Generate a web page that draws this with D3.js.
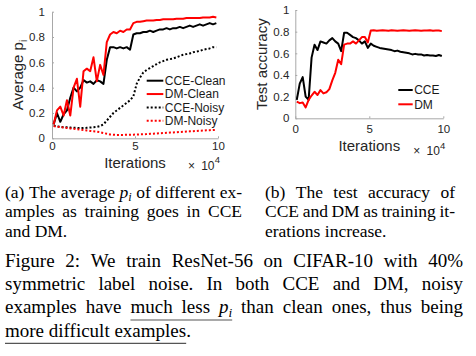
<!DOCTYPE html>
<html><head><meta charset="utf-8">
<script src="https://cdn.jsdelivr.net/npm/d3@7/dist/d3.min.js"></script>
<style>body{margin:0;background:#fff;} svg{display:block}</style>
</head><body>
<svg id="fig" width="476" height="356"></svg>
<script>
// ---- data (iterations in units of 10^4) ----
const iterations = d3.range(50).map(i => +(0.1 + 0.2 * i).toFixed(1));
const cceClean = [.11,.20,.13,.19,.22,.32,.40,.37,.40,.46, .44,.45,.43,.46,.45,.43,.62,.72,.72,.71,
  .72,.71,.72,.70,.82,.83,.83,.84,.84,.85, .84,.85,.86,.86,.87,.86,.87,.87,.88,.87,
  .88,.89,.88,.89,.90,.89,.90,.91,.90,.91];
const dmClean = [.11,.22,.25,.18,.30,.18,.40,.47,.25,.53, .55,.53,.64,.45,.58,.50,.76,.82,.84,.83,
  .85,.84,.86,.86,.91,.92,.92,.925,.93,.93, .93,.935,.935,.94,.94,.94,.94,.945,.945,.945,
  .95,.95,.95,.95,.95,.955,.955,.955,.96,.955];
const cceNoisy = [.10,.095,.09,.088,.087,.085,.083,.082,.08,.081, .083,.085,.087,.09,.097,.11,.14,.17,.20,.22,
  .24,.26,.28,.30,.33,.43,.48,.52,.54,.555, .57,.585,.60,.61,.62,.625,.63,.64,.65,.66,
  .665,.67,.68,.685,.69,.70,.705,.71,.72,.72];
const dmNoisy = [.097,.092,.088,.085,.082,.078,.075,.072,.068,.065, .062,.058,.055,.052,.048,.042,.036,.03,.028,.027,
  .027,.027,.028,.028,.029,.03,.031,.032,.033,.035, .036,.038,.04,.041,.043,.045,.046,.048,.05,.051,
  .053,.055,.056,.058,.06,.061,.063,.064,.066,.067];
const cceAcc = [.17,.32,.38,.20,.17,.56,.68,.63,.71,.70, .69,.72,.74,.71,.69,.62,.79,.79,.77,.75,
  .74,.72,.69,.71,.65,.69,.67,.66,.65,.645, .64,.635,.63,.62,.625,.615,.61,.605,.60,.59,
  .595,.59,.59,.58,.585,.58,.58,.575,.585,.575];
const dmAcc = [.154,.14,.145,.10,.17,.21,.245,.215,.26,.23, .24,.27,.35,.42,.54,.50,.68,.69,.69,.71,
  .69,.72,.75,.75,.70,.81,.812,.808,.81,.812, .81,.808,.812,.81,.808,.81,.812,.81,.808,.81,
  .812,.81,.808,.81,.81,.812,.808,.81,.81,.805];
const xTicks = [0, 5, 10];
const xTickLabels = ["0", "5", "10"];
const yTicks = [0, 0.2, 0.4, 0.6, 0.8, 1];
const yTickLabels = ["0", "0.2", "0.4", "0.6", "0.8", "1"];
const legendA = ["CCE-Clean", "DM-Clean", "CCE-Noisy", "DM-Noisy"];
const legendB = ["CCE", "DM"];
const xLabel = "Iterations";

const svg = d3.select("#fig");
const SANS = "'Liberation Sans', Arial, Helvetica, sans-serif";
const SERIF = "'Liberation Serif', 'Times New Roman', serif";
const AXC = "#a8a8a8", TXC = "#262626";

function panel(o) {
  const x = d3.scaleLinear().domain([0, 10]).range([o.x0, o.x1]);
  const y = d3.scaleLinear().domain([0, 1]).range([o.y0, o.y1]);
  const g = svg.append("g");
  const ax = g.append("g").attr("transform", `translate(${o.x0},0)`)
    .call(d3.axisLeft(y).tickValues(yTicks).tickFormat((d, i) => yTickLabels[i])
      .tickSize(-2).tickSizeOuter(0).tickPadding(o.padY));
  const bx = g.append("g").attr("transform", `translate(0,${o.y0})`)
    .call(d3.axisBottom(x).tickValues(xTicks).tickFormat((d, i) => xTickLabels[i])
      .tickSize(-2).tickSizeOuter(0).tickPadding(o.padX));
  [ax, bx].forEach(a => {
    a.attr("font-family", SANS).attr("font-size", 11.5);
    a.select(".domain").attr("stroke", AXC);
    a.selectAll(".tick line").attr("stroke", AXC);
    a.selectAll(".tick text").attr("fill", TXC);
  });
  const line = d3.line().x((d, i) => x(iterations[i])).y(d => y(d));
  o.series.forEach(s => {
    g.append("path").datum(s.values).attr("d", line).attr("fill", "none")
      .attr("stroke", s.color).attr("stroke-width", 2)
      .attr("stroke-linejoin", "round")
      .attr("stroke-dasharray", s.dash ? "2,2" : null);
  });
  // x label
  g.append("text").attr("x", (o.x0 + o.x1) / 2).attr("y", o.xlY).attr("text-anchor", "middle")
    .attr("font-family", SANS).attr("font-size", 15).attr("fill", TXC).text(xLabel);
  const ex = g.append("text").attr("font-family", SANS).attr("fill", TXC);
  ex.append("tspan").attr("x", o.x1 - 30).attr("y", o.expY).attr("font-size", 12).text("\u00d7");
  ex.append("tspan").attr("x", o.x1 - 16.8).attr("y", o.expY).attr("font-size", 12).text("10");
  ex.append("tspan").attr("x", o.x1 - 3.2).attr("y", o.expY - 6.5).attr("font-size", 9.5).text("4");
  // y label
  const yl = g.append("text").attr("transform", `translate(${o.ylX},${(o.y0 + o.y1) / 2 - (o.ylShift || 0)}) rotate(-90)`)
    .attr("text-anchor", "middle").attr("font-family", SANS).attr("font-size", 15).attr("fill", TXC);
  o.ylabel.forEach(s => {
    const t = yl.append("tspan").text(s.t);
    if (s.sub) t.attr("font-size", 10).attr("dy", 4);
  });
  // legend
  o.legend.forEach((name, i) => {
    const s = o.series[i];
    const ly = o.legY + i * o.legStep;
    g.append("line").attr("x1", o.legX).attr("x2", o.legX + o.legLen).attr("y1", ly).attr("y2", ly)
      .attr("stroke", s.color).attr("stroke-width", 2).attr("stroke-dasharray", s.dash ? "2,2" : null);
    g.append("text").attr("x", o.legX + o.legLen + 1.5).attr("y", ly + 4.3)
      .attr("font-family", SANS).attr("font-size", 12).attr("fill", "#1a1a1a").text(name);
  });
}

panel({
  x0: 52, x1: 218, y0: 138.3, y1: 11.7, padY: 7, padX: 4,
  series: [
    {values: cceClean, color: "#000"},
    {values: dmClean, color: "#ff0000"},
    {values: cceNoisy, color: "#000", dash: true},
    {values: dmNoisy, color: "#ff0000", dash: true}
  ],
  xlY: 168, expY: 169.5, ylX: 22.5, ylShift: 0,
  ylabel: [{t: "Average p"}, {t: "i", sub: true}],
  legend: legendA, legX: 146.7, legLen: 16.6, legY: 80.7, legStep: 13.35
});
panel({
  x0: 295.3, x1: 443.3, y0: 118.3, y1: 10, padY: 6, padX: 7,
  series: [
    {values: cceAcc, color: "#000"},
    {values: dmAcc, color: "#ff0000"}
  ],
  xlY: 150.7, expY: 155, ylX: 266.7,
  ylabel: [{t: "Test accuracy"}],
  legend: legendB, legX: 398.3, legLen: 14.4, legY: 90, legStep: 14.3
});

// ---- captions ----
function W(str, extra) { return [Object.assign({t: str}, extra || {})]; }
function words(str, extra) { return str.split(" ").map(s => W(s, extra)); }
const PI = [{t: "p", it: true}, {t: "i", it: true, sub: true}];
const PIul = [{t: "p", it: true, ul: true}, {t: "i", it: true, sub: true, ul: true}];

function block(lines, x0, width, baselines, fs, justifyLast) {
  lines.forEach((ln, li) => {
    const placed = ln.map(word => {
      const t = svg.append("text").attr("y", baselines[li]).attr("font-family", SERIF)
        .attr("font-size", fs).attr("fill", "#000");
      const spans = word.map(seg => {
        const sp = t.append("tspan").text(seg.t);
        if (seg.it) sp.attr("font-style", "italic");
        if (seg.sub) sp.attr("font-size", fs * 0.7).attr("dy", fs * 0.2);
        return {sp, seg};
      });
      return {t, spans, w: t.node().getComputedTextLength()};
    });
    const total = d3.sum(placed, p => p.w);
    const last = li === lines.length - 1 && !justifyLast;
    const gap = (last || placed.length < 2) ? fs * 0.25 : (width - total) / (placed.length - 1);
    let cx = x0, ulA = null, ulB = null;
    placed.forEach(p => {
      p.t.attr("x", cx);
      let off = cx;
      p.spans.forEach(({sp, seg}) => {
        const sw = sp.node().getComputedTextLength();
        if (seg.ul) { if (ulA === null) ulA = off; ulB = off + sw; }
        off += sw;
      });
      cx += p.w + gap;
    });
    if (ulA !== null) {
      svg.append("line").attr("x1", ulA).attr("x2", ulB)
        .attr("y1", baselines[li] + 6.7).attr("y2", baselines[li] + 6.7)
        .attr("stroke", "#555").attr("stroke-width", 1.2);
    }
  });
}

block([
  [...words("(a) The average"), PI, ...words("of different ex-")],
  words("amples as training goes in CCE"),
  words("and DM.")
], 5, 237, [197.7, 217.2, 236.7], 17.5, false);

block([
  words("(b) The test accuracy of"),
  words("CCE and DM as training it-"),
  words("erations increase.")
], 265, 190, [197.7, 217.2, 236.7], 17.5, false);

block([
  words("Figure 2: We train ResNet-56 on CIFAR-10 with 40%"),
  words("symmetric label noise. In both CCE and DM, noisy"),
  [...words("examples have"), ...words("much less", {ul: true}), PIul, ...words("than clean ones, thus being")],
  [...words("more difficult", {ul: true}), [{t: "examples", ul: true}, {t: "."}]]
], 5, 458, [266.7, 290, 313.3, 336.6], 19, false);
</script>
</body></html>
